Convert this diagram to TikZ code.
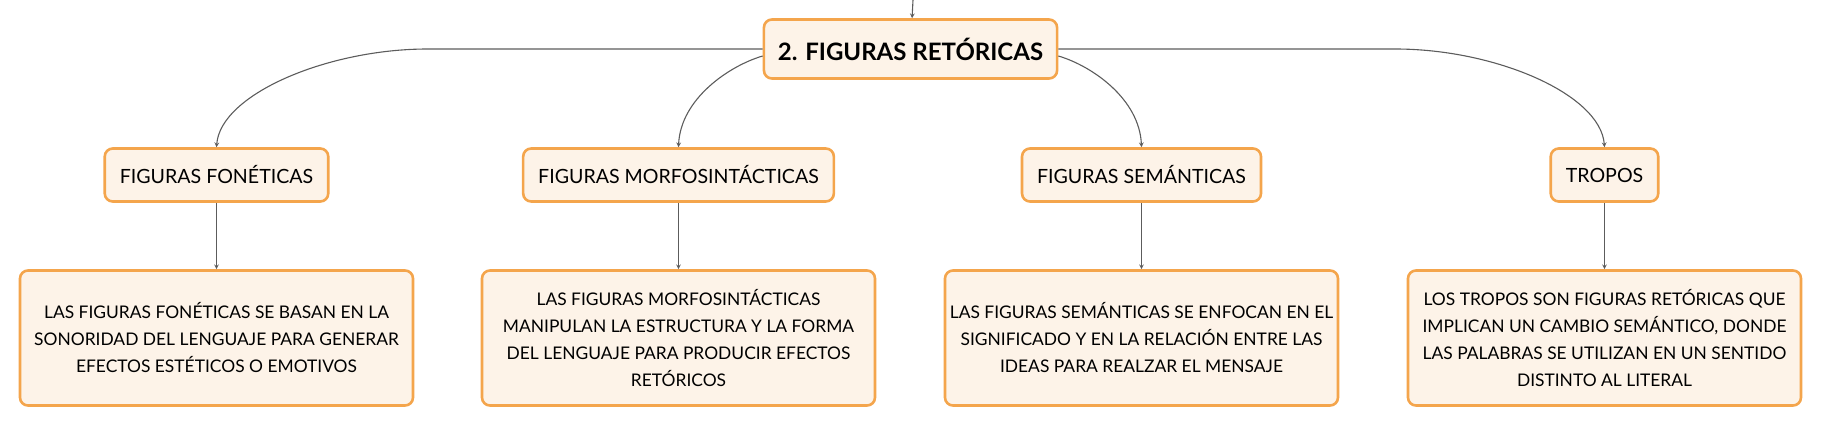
\documentclass[tikz,border=0pt]{standalone}
\usepackage{fontspec}
\setmainfont{Lato}
\usetikzlibrary{positioning}
\definecolor{boxfill}{HTML}{FDF3E8}
\definecolor{boxline}{HTML}{F4A54C}
\definecolor{linkgray}{HTML}{5C5C5C}
\begin{document}
\begin{tikzpicture}[
  x=1pt, y=-1pt,
  >=stealth,
  node distance=163pt,
  every node/.style={
    draw=boxline, fill=boxfill, line width=2.6pt,
    rounded corners=8pt, align=center, text=black},
  root/.style={font=\fontsize{24}{28}\selectfont\bfseries,
    minimum height=59pt, inner xsep=14pt},
  topic/.style={font=\fontsize{19.6}{23}\selectfont,
    minimum height=53pt, inner xsep=15pt},
  note/.style={font=\fontsize{17.4}{27}\selectfont,
    minimum width=393pt, minimum height=135pt},
  link/.style={draw=linkgray, line width=1.1pt}]

  \useasboundingbox (0,0) rectangle (1821,426);

  \node[root] (r) at (910.5,49) {2. FIGURAS RETÓRICAS};
  \coordinate (in) at (913,0);

  \node[topic] (fon) at (216.5,175) {FIGURAS FONÉTICAS};
  \node[topic] (morf) at (678.5,175) {FIGURAS MORFOSINTÁCTICAS};
  \node[topic] (sem) at (1141.5,175) {FIGURAS SEMÁNTICAS};
  \node[topic] (trop) at (1604.5,175) {TROPOS};

  \node[note, below of=fon] (fonx) {LAS FIGURAS FONÉTICAS SE BASAN EN LA\\
    SONORIDAD DEL LENGUAJE PARA GENERAR\\
    EFECTOS ESTÉTICOS O EMOTIVOS};
  \node[note, below of=morf] (morfx) {LAS FIGURAS MORFOSINTÁCTICAS\\
    MANIPULAN LA ESTRUCTURA Y LA FORMA\\
    DEL LENGUAJE PARA PRODUCIR EFECTOS\\
    RETÓRICOS};
  \node[note, below of=sem] (semx) {LAS FIGURAS SEMÁNTICAS SE ENFOCAN EN EL\\
    SIGNIFICADO Y EN LA RELACIÓN ENTRE LAS\\
    IDEAS PARA REALZAR EL MENSAJE};
  \node[note, below of=trop] (tropx) {LOS TROPOS SON FIGURAS RETÓRICAS QUE\\
    IMPLICAN UN CAMBIO SEMÁNTICO, DONDE\\
    LAS PALABRAS SE UTILIZAN EN UN SENTIDO\\
    DISTINTO AL LITERAL};

  \draw[link,->] (in) -- (r);
  \draw[link,->] (r.west) -- ++(-335,0)
    .. controls +(-100,0) and +(4,-53) .. (fon.north);
  \draw[link,->] ([yshift=-7pt]r.west)
    .. controls +(-34,10) and +(2,-48) .. (morf.north);
  \draw[link,->] ([yshift=-7pt]r.east)
    .. controls +(34,10) and +(-2,-48) .. (sem.north);
  \draw[link,->] (r.east) -- ++(337,0)
    .. controls +(100,0) and +(-4,-53) .. (trop.north);

  \draw[link,->] (fon) -- (fonx);
  \draw[link,->] (morf) -- (morfx);
  \draw[link,->] (sem) -- (semx);
  \draw[link,->] (trop) -- (tropx);
\end{tikzpicture}
\end{document}
